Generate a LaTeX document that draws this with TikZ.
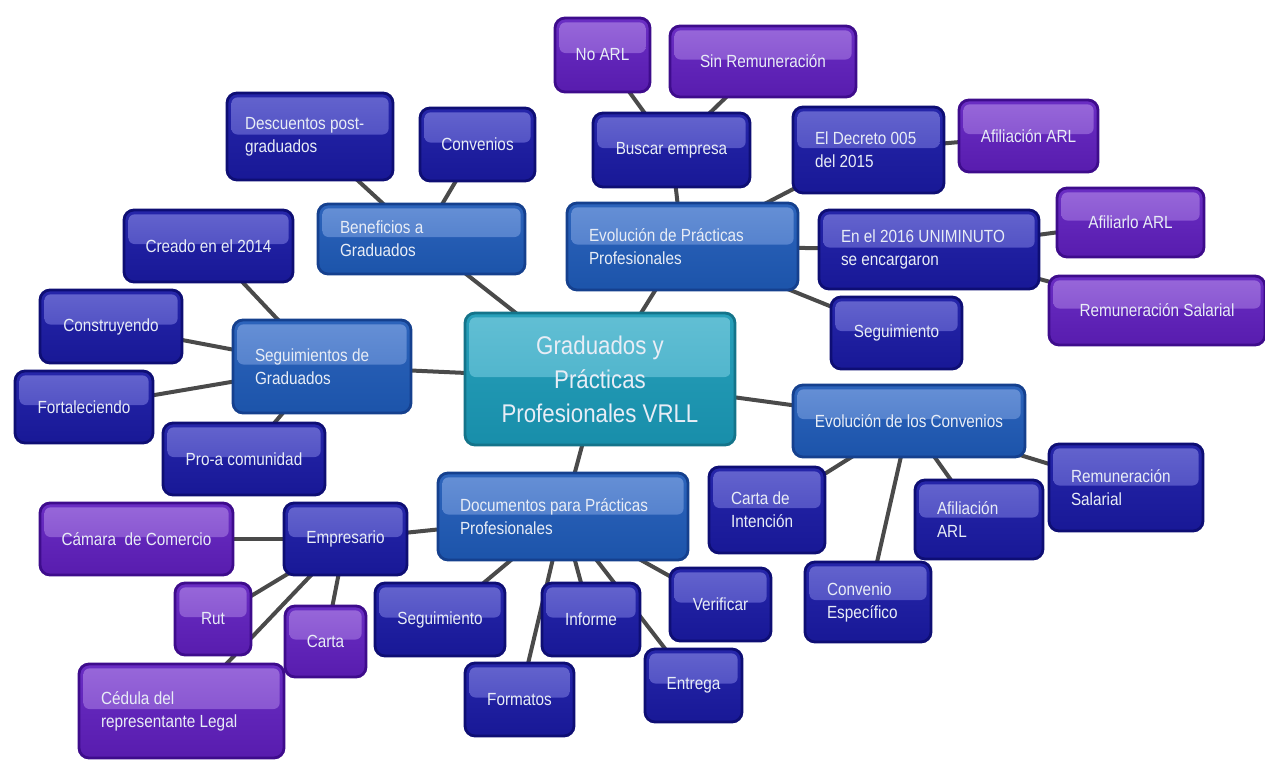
\documentclass[tikz,border=0pt]{standalone}
\usepackage{fontspec}
\setmainfont{Liberation Sans}[FakeStretch=0.87]
\usetikzlibrary{backgrounds}
\newcommand\fsmall{\fontsize{8.8}{11.5}\selectfont}
\newcommand\fbig{\fontsize{12.8}{17}\selectfont}
\definecolor{txt}{HTML}{E8EDF6}
\definecolor{lineC}{HTML}{4A4A4A}
% dark blue
\definecolor{dkB}{HTML}{0E0E74}
\definecolor{dkT}{HTML}{2626AA}
\definecolor{dkD}{HTML}{181896}
\definecolor{dkG1}{HTML}{6464CE}
\definecolor{dkG2}{HTML}{4040BA}
% purple
\definecolor{puB}{HTML}{3E0C8C}
\definecolor{puT}{HTML}{6A2EC4}
\definecolor{puD}{HTML}{581CAE}
\definecolor{puG1}{HTML}{9868DA}
\definecolor{puG2}{HTML}{7A44C8}
% mid blue
\definecolor{mbB}{HTML}{15408E}
\definecolor{mbT}{HTML}{2D64BC}
\definecolor{mbD}{HTML}{1C54AA}
\definecolor{mbG1}{HTML}{6690D6}
\definecolor{mbG2}{HTML}{4474C4}
% teal
\definecolor{tlB}{HTML}{14748A}
\definecolor{tlT}{HTML}{28A0BA}
\definecolor{tlD}{HTML}{188EAA}
\definecolor{tlG1}{HTML}{62BFD4}
\definecolor{tlG2}{HTML}{40ACC6}
\tikzset{
  gloss/.style 2 args={path picture={
    \shade[top color=#1, bottom color=#2, rounded corners=3pt]
      ([shift={(2.2pt,-2.2pt)}]path picture bounding box.north west) rectangle
      ([shift={(-2.2pt,1pt)}]path picture bounding box.east);}},
  mbox/.style={rounded corners=5pt, line width=1.4pt, text=txt, font=\fsmall,
    inner sep=0pt, align=center},
  dk/.style={mbox, draw=dkB, top color=dkT, bottom color=dkD, gloss={dkG1}{dkG2}},
  pu/.style={mbox, draw=puB, top color=puT, bottom color=puD, gloss={puG1}{puG2}},
  mb/.style={mbox, draw=mbB, top color=mbT, bottom color=mbD, gloss={mbG1}{mbG2}},
  tl/.style={mbox, draw=tlB, top color=tlT, bottom color=tlD, gloss={tlG1}{tlG2}, font=\fbig},
  sz/.style 2 args={minimum width=#1*0.5pt, minimum height=#2*0.5pt},
  lsz/.style 2 args={sz={#1}{#2}, text width=(#1-44)*0.5pt, align=flush left},
  conn/.style={line width=2pt, draw=lineC},
}
\begin{document}
\begin{tikzpicture}[x=0.5pt,y=-0.5pt]
\useasboundingbox (0,0) rectangle (1265,762);
% central
\node[tl, sz={270}{132}] (c) at (600,379) {Graduados y\\Prácticas\\Profesionales VRLL};
% level 1
\node[mb, lsz={207}{70}] (ben) at (421.5,239) {Beneficios a\\Graduados};
\node[mb, lsz={231}{87}] (evp) at (682.5,246.5) {Evolución de Prácticas\\Profesionales};
\node[mb, lsz={178}{93}] (segg) at (322,366.5) {Seguimientos de\\Graduados};
\node[mb, lsz={250}{87}] (doc) at (563,516.5) {Documentos para Prácticas\\Profesionales};
\node[mb, sz={232}{72}] (evc) at (909,421) {Evolución de los Convenios};
% Beneficios
\node[dk, sz={166}{87}, text width=65pt, align=flush left] (desc) at (310,136.5) {Descuentos post-\\graduados};
\node[dk, sz={115}{73}] (conv) at (477.5,144.5) {Convenios};
% Evolucion practicas
\node[dk, sz={157}{74}] (busc) at (671.5,150) {Buscar empresa};
\node[pu, sz={95}{74}] (noarl) at (602.5,55) {No ARL};
\node[pu, sz={186}{71}] (sinrem) at (763,61.5) {Sin Remuneración};
\node[dk, lsz={151}{86}] (decr) at (868.5,150) {El Decreto 005\\del 2015};
\node[pu, sz={139}{72}] (afarl1) at (1028.5,136) {Afiliación ARL};
\node[dk, lsz={220}{79}] (en16) at (929,249.5) {En el 2016 UNIMINUTO\\se encargaron};
\node[pu, sz={147}{69}] (afil2) at (1130.5,222.5) {Afiliarlo ARL};
\node[pu, sz={216}{69}] (remp) at (1157,310.5) {Remuneración Salarial};
\node[dk, sz={131}{72}] (segt) at (896.5,333) {Seguimiento};
% Seguimientos de graduados
\node[dk, sz={169}{72}] (crea) at (208.5,246) {Creado en el 2014};
\node[dk, sz={142}{73}] (cons) at (111,326.5) {Construyendo};
\node[dk, sz={138}{72}] (fort) at (84,407) {Fortaleciendo};
\node[dk, sz={162}{72}] (proa) at (244,459) {Pro-a comunidad};
% Evolucion convenios
\node[dk, lsz={116}{86}] (cint) at (767,510) {Carta de\\Intención};
\node[dk, lsz={128}{79}] (afarlb) at (979,519.5) {Afiliación\\ARL};
\node[dk, lsz={154}{87}] (remb) at (1126,487.5) {Remuneración\\Salarial};
\node[dk, lsz={126}{80}] (cesp) at (868,602) {Convenio\\Específico};
% Documentos
\node[dk, sz={123}{72}] (emp) at (345.5,539) {Empresario};
\node[pu, sz={193}{72}] (cam) at (136.5,539) {Cámara\ \ de Comercio};
\node[pu, sz={76}{72}] (rut) at (213,619) {Rut};
\node[pu, sz={81}{71}] (carta) at (325.5,641.5) {Carta};
\node[pu, lsz={205}{94}] (ced) at (181.5,711) {Cédula del\\representante Legal};
\node[dk, sz={130}{73}] (segb) at (440,619.5) {Seguimiento};
\node[dk, sz={109}{73}] (form) at (519.5,699.5) {Formatos};
\node[dk, sz={98}{73}] (inf) at (591,619.5) {Informe};
\node[dk, sz={101}{73}] (verif) at (720.5,604.5) {Verificar};
\node[dk, sz={97}{73}] (ent) at (693.5,685.5) {Entrega};
\begin{scope}[on background layer]
\fill[white] (0,0) rectangle (1265,762);
\draw[conn] (c.center) -- (ben.center);
\draw[conn] (c.center) -- (evp.center);
\draw[conn] (c.center) -- (segg.center);
\draw[conn] (c.center) -- (doc.center);
\draw[conn] (c.center) -- (evc.center);
\draw[conn] (ben.center) -- (desc.center);
\draw[conn] (ben.center) -- (conv.center);
\draw[conn] (evp.center) -- (busc.center);
\draw[conn] (evp.center) -- (decr.center);
\draw[conn] (evp.center) -- (en16.center);
\draw[conn] (evp.center) -- (segt.center);
\draw[conn] (busc.center) -- (noarl.center);
\draw[conn] (busc.center) -- (sinrem.center);
\draw[conn] (decr.center) -- (afarl1.center);
\draw[conn] (en16.center) -- (afil2.center);
\draw[conn] (en16.center) -- (remp.center);
\draw[conn] (segg.center) -- (crea.center);
\draw[conn] (segg.center) -- (cons.center);
\draw[conn] (segg.center) -- (fort.center);
\draw[conn] (segg.center) -- (proa.center);
\draw[conn] (evc.center) -- (cint.center);
\draw[conn] (evc.center) -- (cesp.center);
\draw[conn] (evc.center) -- (afarlb.center);
\draw[conn] (evc.center) -- (remb.center);
\draw[conn] (doc.center) -- (emp.center);
\draw[conn] (doc.center) -- (segb.center);
\draw[conn] (doc.center) -- (form.center);
\draw[conn] (doc.center) -- (inf.center);
\draw[conn] (doc.center) -- (ent.center);
\draw[conn] (doc.center) -- (verif.center);
\draw[conn] (emp.center) -- (cam.center);
\draw[conn] (emp.center) -- (rut.center);
\draw[conn] (emp.center) -- (carta.center);
\draw[conn] (emp.center) -- (ced.center);
\end{scope}
\end{tikzpicture}
\end{document}
